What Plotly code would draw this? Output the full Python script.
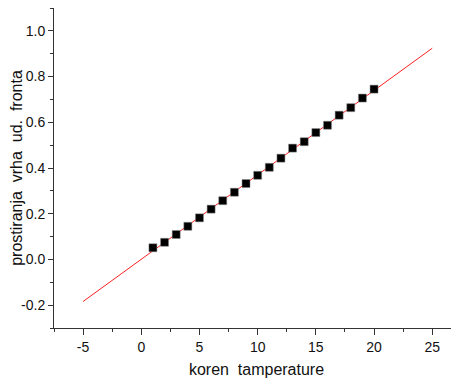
import plotly.graph_objects as go

# data
temp_x = list(range(1, 21))
spread_y = [0.051, 0.075, 0.109, 0.145, 0.182, 0.220, 0.257, 0.294, 0.332, 0.368,
            0.403, 0.443, 0.487, 0.515, 0.555, 0.587, 0.631, 0.664, 0.706, 0.745]
fit_x = [-5, 25]
fit_y = [-0.184, 0.924]

x_ticks = [-5, 0, 5, 10, 15, 20, 25]
x_tick_labels = ["-5", "0", "5", "10", "15", "20", "25"]
y_ticks = [-0.2, 0.0, 0.2, 0.4, 0.6, 0.8, 1.0]
y_tick_labels = ["-0.2", "0.0", "0.2", "0.4", "0.6", "0.8", "1.0"]

FONT = "Liberation Sans, Arial, sans-serif"

fig = go.Figure()
fig.add_trace(go.Scatter(x=fit_x, y=fit_y, mode="lines",
                         line=dict(color="#ff2020", width=1), showlegend=False))
fig.add_trace(go.Scatter(x=temp_x, y=spread_y, mode="markers",
                         marker=dict(symbol="square", size=8, color="black",
                                     line=dict(color="#888", width=0.5)),
                         showlegend=False))

# the page body has an 8px default margin, so the figure is 8px smaller
fig.update_layout(
    width=451, height=372,
    margin=dict(l=46, r=0, t=0, b=52),
    paper_bgcolor="white", plot_bgcolor="white",
    font=dict(family=FONT, color="#111", size=14),
    xaxis=dict(range=[-7.5, 27.3], tickvals=x_ticks, ticktext=x_tick_labels,
               ticks="outside", ticklen=6, automargin=False,
               tickcolor="#333", showline=True, linecolor="#333", linewidth=1,
               showgrid=False, zeroline=False,
               minor=dict(dtick=2.5, tick0=0, ticks="outside", ticklen=3, tickcolor="#333"),
               title=dict(text="koren  tamperature", font=dict(size=16), standoff=10),
               tickfont=dict(size=14)),
    yaxis=dict(range=[-0.3, 1.1], tickvals=y_ticks, ticktext=y_tick_labels,
               ticks="outside", ticklen=5, tickcolor="#333", automargin=False,
               showline=True, linecolor="#333", linewidth=1,
               showgrid=False, zeroline=False,
               minor=dict(dtick=0.1, tick0=0, ticks="outside", ticklen=3, tickcolor="#333"),
               title=dict(text="prostiranja  vrha  ud.  fronta", font=dict(size=16), standoff=4),
               tickfont=dict(size=14)),
)

fig.write_html("out.html")
